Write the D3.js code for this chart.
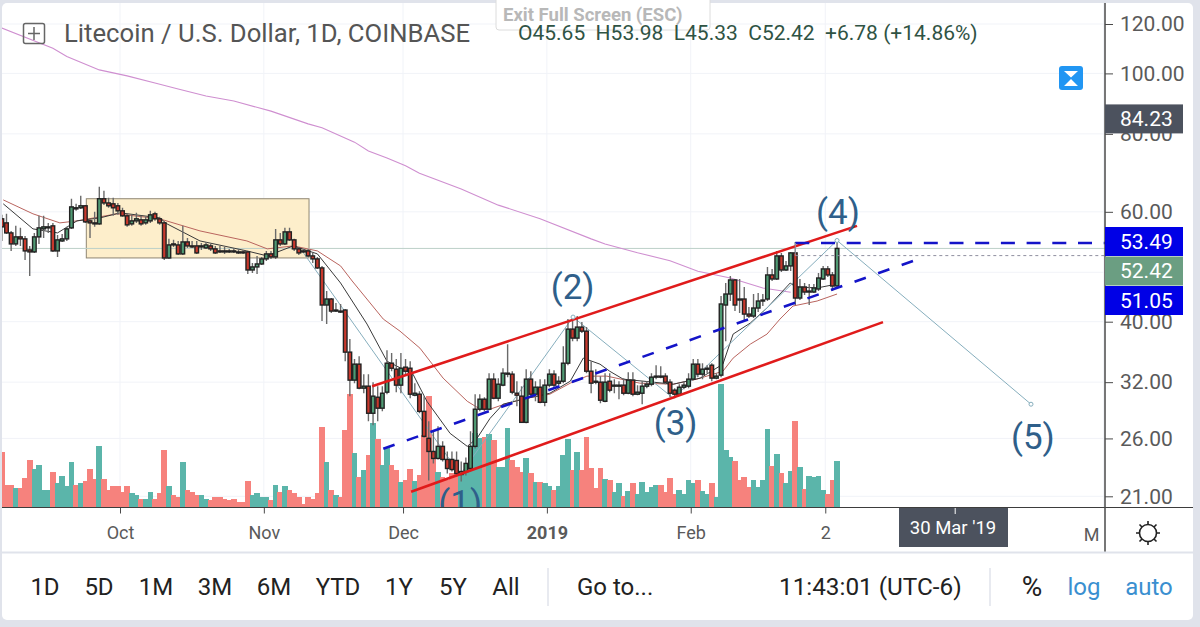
<!DOCTYPE html>
<html>
<head>
<meta charset="utf-8">
<style>
    html, body { margin: 0; padding: 0; background: #e0e3eb; }
    svg { display: block; }
    text { font-family: Roboto, sans-serif; }
</style>
<script src="https://cdn.jsdelivr.net/npm/d3@7"></script>
</head>
<body>
<svg id="chart" width="1200" height="627"></svg>
<script>
// LTC/USD daily candles, 5 Sep 2018 to 4 Mar 2019
const firstDay = Date.UTC(2018, 8, 5);

const opens = [
    58.47, 57.6, 55.51, 53.3, 54.7, 54.3, 52.13, 51.75, 54.7, 56.34,
    56.55, 56.97, 51.94, 53.89, 54.3, 56.55, 60.9, 60.9, 61.35, 58.03,
    57.6, 57.39, 62.97, 62, 61.8, 61.35, 60.22, 59.12, 57.39, 58.03,
    58.25, 57.6, 58.03, 59.56, 58.47, 57.6, 50.61, 53.3, 53.1, 51.37,
    53.69, 52.91, 52.91, 52.71, 52.52, 52.91, 52.33, 51.94, 51.94, 51.94,
    51.94, 51.75, 51.75, 51.75, 48.41, 48.96, 49.5, 50.43, 51.37, 50.8,
    54.1, 53.3, 55.72, 54.1, 52.33, 51.94, 51.94, 50.99, 50.43, 48.78,
    42.54, 43.49, 41.6, 41.6, 41.76, 35.75, 32.24, 34.2, 31.3, 31.53,
    28.53, 30.27, 29.07, 30.84, 34.32, 33.57, 31.65, 33.82, 33.69, 30.5,
    30.61, 28.73, 26.01, 24.78, 24.15, 25.25, 24.06, 24.06, 23.97, 22.76,
    23.01, 23.27, 25.25, 28.96, 30.05, 28.96, 32.36, 30.16, 31.65, 32.96,
    32.96, 30.72, 30.39, 27.59, 32.36, 30.61, 31.41, 29.71, 31.65, 32.96,
    31.88, 32.11, 34.32, 38.92, 37.65, 39.21, 38.63, 33.32, 32.11, 32,
    29.82, 32.11, 31.53, 31.53, 31.65, 30.72, 32.24, 30.61, 30.72, 31.53,
    31.76, 32.6, 32.72, 32.72, 32, 31.07, 30.61, 31.41, 31.53, 32.36,
    34.2, 32.96, 33.57, 34.07, 32.48, 32.84, 42.54, 44.3, 46.66, 43.49,
    43.49, 41.14, 40.84, 42.07, 43.17, 43.49, 47.53, 46.83, 50.99, 48.41,
    49.14, 51.56, 43.65, 45.46, 44.63, 44.63, 45.13, 46.83, 48.6, 47.53,
    45.65
];
const closes = [
    56.76, 55.51, 53.3, 54.7, 54.3, 51.94, 51.75, 54.7, 56.55, 56.76,
    56.76, 51.94, 54.1, 54.3, 56.34, 61.1, 60.65, 61.35, 57.82, 57.6,
    57.39, 62.97, 62, 61.35, 60.9, 60.22, 59.12, 57.18, 58.03, 58.47,
    57.39, 58.25, 59.34, 58.47, 57.6, 50.61, 53.1, 53.1, 51.37, 53.69,
    52.91, 52.71, 51.56, 52.91, 53.1, 52.33, 51.56, 51.75, 51.75, 51.75,
    51.75, 51.56, 51.56, 48.41, 48.96, 49.5, 50.43, 51.37, 50.8, 54.1,
    53.3, 55.72, 54.1, 52.33, 51.56, 51.75, 50.99, 50.43, 48.78, 42.54,
    43.49, 41.6, 41.76, 41.45, 35.75, 32.24, 34.2, 31.3, 31.53, 28.53,
    30.39, 29.07, 30.72, 34.32, 33.69, 31.65, 33.69, 33.32, 30.61, 30.72,
    28.73, 26.2, 24.78, 24.15, 25.25, 24.06, 23.27, 23.18, 22.84, 23.01,
    23.71, 25.25, 28.96, 30.05, 28.96, 32.36, 30.16, 31.76, 33.08, 33.08,
    30.84, 30.5, 27.59, 32.36, 30.61, 31.41, 29.71, 31.65, 32.96, 31.65,
    32.11, 34.32, 38.92, 37.65, 39.21, 38.63, 33.32, 31.88, 32, 29.94,
    32, 31.07, 31.65, 31.65, 30.72, 32.24, 30.61, 30.84, 31.53, 31.76,
    32.6, 32.72, 32.6, 32, 30.72, 30.61, 31.41, 31.65, 32.36, 34.2,
    32.96, 33.57, 33.69, 32.48, 32.72, 42.7, 44.3, 46.66, 42.54, 43.33,
    41.14, 40.84, 42.07, 43.17, 43.33, 47.53, 46.83, 50.99, 48.41, 49.14,
    51.56, 43.65, 45.46, 44.63, 44.79, 45.3, 47, 48.6, 47.53, 45.63,
    52.42
];
const highs = [
    59.34, 59.56, 55.92, 56.97, 56.55, 54.9, 52.91, 55.51, 59.12, 59.12,
    57.6, 57.6, 55.1, 55.31, 56.76, 62.97, 61.8, 63.66, 61.55, 58.25,
    60, 65.8, 64.83, 63.2, 63.2, 62, 60.9, 59.56, 59.34, 59.78,
    59.12, 58.9, 60.22, 60, 58.9, 57.82, 54.3, 54.1, 53.89, 56.97,
    54.5, 53.89, 53.89, 53.5, 53.69, 53.3, 52.91, 52.91, 52.71, 52.33,
    52.52, 52.33, 52.13, 51.94, 49.68, 50.99, 50.8, 51.94, 51.94, 56.34,
    55.51, 56.55, 56.55, 54.3, 52.71, 52.33, 52.33, 51.56, 50.8, 49.14,
    44.79, 43.65, 42.85, 42.7, 41.91, 37.51, 34.84, 35.22, 32.96, 32.96,
    32, 31.53, 31.53, 36.01, 35.62, 34.84, 35.62, 34.84, 34.57, 31.88,
    30.94, 30.39, 27.69, 26.69, 27.19, 25.72, 24.78, 24.78, 24.78, 23.88,
    24.24, 26.69, 30.61, 30.61, 30.27, 33.08, 33.08, 32.48, 33.69, 36.82,
    33.32, 32.11, 31.53, 33.57, 33.32, 32.11, 32.36, 32.36, 33.57, 33.45,
    32.72, 36.55, 40.39, 40.09, 40.84, 39.94, 39.21, 34.57, 33.57, 32.72,
    33.08, 33.08, 32.36, 32.11, 32.48, 33.2, 33.2, 31.65, 32.11, 32.11,
    33.08, 34.07, 33.94, 33.08, 32.36, 31.3, 31.76, 32.11, 33.08, 34.84,
    34.84, 34.32, 34.07, 34.32, 33.08, 43.97, 46.14, 47.35, 46.83, 46.83,
    45.46, 42.22, 44.3, 44.46, 44.3, 48.96, 48.6, 51.94, 51.56, 50.05,
    51.75, 53.69, 46.83, 46.14, 45.97, 45.97, 47.88, 49.14, 49.14, 48.06,
    53.98
];
const lows = [
    53.89, 55.31, 51.94, 52.91, 52.91, 50.24, 47.35, 51.56, 53.3, 54.5,
    55.51, 51.75, 50.8, 53.69, 53.89, 56.34, 60.22, 60.65, 57.6, 54.5,
    56.76, 57.18, 61.55, 60.9, 59.12, 59.34, 58.9, 56.76, 56.97, 57.6,
    56.97, 57.18, 57.6, 58.03, 57.18, 50.24, 50.43, 52.71, 51.18, 51.18,
    52.52, 52.52, 51.37, 52.13, 52.33, 51.94, 51.37, 51.56, 51.37, 51.56,
    51.56, 51.37, 51.37, 47.7, 47.88, 47.7, 49.32, 50.05, 50.43, 50.43,
    52.91, 53.1, 53.89, 51.94, 51.18, 51.56, 50.8, 49.68, 48.6, 40.09,
    39.65, 41.3, 41.45, 41.3, 34.57, 30.39, 31.88, 31.18, 30.72, 27.69,
    27.29, 27.69, 28.73, 30.61, 33.32, 30.84, 30.72, 32.96, 30.16, 30.39,
    28.53, 26.1, 22.26, 23.71, 24.06, 23.88, 22.84, 23.01, 22.59, 22.18,
    22.67, 23.01, 25.06, 28.73, 28.73, 28.85, 30.05, 29.82, 31.53, 32.6,
    30.61, 29.28, 27.59, 27.49, 30.39, 29.82, 29.6, 29.28, 31.41, 31.41,
    31.65, 31.88, 34.07, 37.23, 37.23, 38.35, 33.08, 30.72, 31.76, 29.6,
    29.71, 30.84, 30.72, 30.05, 30.5, 30.61, 30.39, 30.5, 29.5, 31.3,
    31.53, 32.36, 32.48, 31.76, 30.27, 30.16, 30.5, 31.18, 31.3, 32.24,
    32.6, 32.36, 33.08, 32.11, 32.36, 32.6, 37.23, 43.17, 41.6, 41.3,
    40.09, 40.54, 40.54, 41.45, 42.38, 43.17, 46.48, 46.66, 48.06, 48.23,
    48.23, 42.54, 43.33, 44.14, 42.54, 44.46, 44.79, 46.66, 47.18, 44.79,
    45.33
];
const volumes = [
    56, 23, 23, 20, 20, 30, 48, 39, 43, 18,
    18, 36, 25, 32, 22, 46, 23, 25, 27, 39,
    29, 62, 29, 18, 22, 22, 16, 22, 15, 13,
    9, 9, 16, 9, 15, 58, 22, 13, 11, 46,
    18, 16, 13, 13, 9, 8, 11, 11, 9, 8,
    9, 6, 6, 27, 13, 15, 11, 11, 8, 23,
    16, 22, 18, 15, 11, 4, 11, 9, 15, 81,
    46, 18, 13, 11, 78, 114, 55, 31, 38, 53,
    85, 69, 43, 61, 43, 38, 26, 28, 39, 27,
    33, 73, 112, 51, 36, 31, 28, 35, 35, 36,
    36, 43, 75, 70, 71, 74, 68, 41, 41, 80,
    48, 41, 36, 50, 35, 26, 26, 25, 22, 18,
    22, 53, 69, 38, 56, 38, 71, 40, 20, 40,
    29, 28, 16, 25, 12, 17, 25, 14, 26, 16,
    21, 23, 23, 16, 30, 14, 18, 14, 28, 25,
    28, 17, 14, 25, 11, 124, 58, 51, 47, 28,
    31, 21, 28, 21, 28, 79, 42, 54, 35, 25,
    37, 87, 41, 19, 32, 31, 32, 18, 14, 28,
    47
];

// overlay lines, as [candle index, price]
const maLong = [[0, 118.2], [11, 109.7], [14, 106.4], [21, 101.3], [27, 99.1], [33, 96.5], [38, 94.4], [44, 92], [50, 90.3], [58, 87], [66, 83], [69, 81.8], [76, 77.6], [79, 75.1], [83, 73.2], [87, 71.1], [90, 69.2], [99, 65.3], [107, 61.5], [116, 58.5], [127, 54.3], [130, 53.3], [137, 51.6], [144, 50.1], [150, 48.2], [157, 47], [164, 45.3], [170, 44.6]];
const maRed = [[0.3, 62.7], [6.7, 59.56], [12.5, 57.6], [16.2, 58.03], [24.8, 59.56], [34, 58.47], [42.7, 55.92], [52.8, 53.89], [57.2, 52.33], [62.8, 52.91], [68, 51.94], [73, 49.14], [75.5, 46.48], [82.2, 40.39], [85.8, 38.63], [90.1, 36.28], [95.1, 32.48], [100.3, 29.82], [102.4, 29.17], [105.2, 28.96], [108.9, 29.6], [113.2, 30.16], [118.1, 30.61], [122.5, 31.88], [126.1, 32.72], [130.4, 32.72], [137.5, 31.88], [144.7, 31.76], [149.8, 32.36], [155.4, 33.32], [157.6, 34.97], [161.3, 36.82], [164.9, 38.21], [167.7, 40.39], [170.5, 42.38], [175.7, 43.17], [180, 44.3]];
const maBlack = [[0.3, 61.8], [6.7, 56.34], [12, 55.51], [16.2, 58.03], [21.2, 58.68], [25.5, 59.78], [34, 58.68], [35.6, 57.39], [42.7, 53.89], [52.8, 51.94], [57.2, 50.99], [62.8, 52.91], [68, 51.37], [73, 46.14], [78.7, 39.65], [83, 34.57], [88.6, 32.96], [91.6, 29.82], [96.6, 26.49], [100.3, 25.25], [102.4, 26.01], [105.2, 27.99], [108, 29.5], [112.3, 30.05], [118.1, 30.72], [122.5, 32.11], [125.3, 34.97], [128.9, 34.2], [131, 33.32], [133.9, 32.36], [144.7, 31.76], [150.5, 32.48], [155.4, 34.2], [157.6, 38.21], [161.3, 39.8], [164.9, 42.07], [169.9, 46.14], [171, 45.5], [175.7, 45.3], [180, 45.97]];

const channelUpper = [[79.8, 31.53], [184.3, 56.97]];
const channelLower = [[88.2, 21.35], [189.9, 39.94]];
const channelMiddle = [[82.2, 25.03], [197, 50.24]];
const waveLine = [[64.7, 51.94], [98.8, 22.76], [123.1, 40.69], [144.7, 30.16], [180, 53.98], [221.8, 29.5]];
const waveLabels = [['(1)', 98.8, 20.3], ['(2)', 123, 44.96], ['(3)', 145.2, 27.2], ['(4)', 180.2, 59.34], ['(5)', 222.2, 25.9]];
const boxRange = { from: 18.2, to: 66.2, top: 62.97, bottom: 50.61 };

const priceTicks = [120, 100, 80, 60, 48, 40, 32, 26, 21];
const timeTicks = [[2018, 9, 1], [2018, 10, 1], [2018, 11, 1], [2019, 0, 1], [2019, 1, 1], [2019, 2, 2], [2019, 4, 1]];
const timeLabels = ['Oct', 'Nov', 'Dec', '2019', 'Feb', '2', 'May'];
const lastClose = 52.42, rangeTop = 53.49, rangeBottom = 51.05, markPrice = 84.23;
const rangeButtons = ['1D', '5D', '1M', '3M', '6M', 'YTD', '1Y', '5Y', 'All'];
const rangeButtonX = [45, 99, 156, 215, 274, 338, 399, 453, 506];

const svg = d3.select('#chart');

const x = d3.scaleUtc()
    .domain([Date.UTC(2018, 9, 1), Date.UTC(2019, 4, 1)])
    .range([120, 120 + 212 * 4.64]);
const y = d3.scaleLog().domain([21, 120]).range([496.3, 24]);
const yVolume = d3.scaleLinear().domain([0, 125]).range([508, 383]);

// candles sit a little right of the day's tick, same as the source chart
const xDay = (i) => x(firstDay + i * 864e5) + 2.5;
const point = ([i, price]) => [xDay(i), y(price)];
const line = d3.line().x((d) => point(d)[0]).y((d) => point(d)[1]);

const candles = d3.range(opens.length).map((i) => ({
    i, open: opens[i], close: closes[i], high: highs[i], low: lows[i], volume: volumes[i], up: closes[i] >= opens[i],
}));

// page and panel
svg.append('rect').attr('width', 1200).attr('height', 627).attr('fill', '#e0e3eb');
svg.append('rect').attr('x', 2).attr('y', 3).attr('width', 1191).attr('height', 617).attr('rx', 5).attr('fill', '#fff');

svg.append('clipPath').attr('id', 'plot').append('rect').attr('x', 2).attr('y', 3).attr('width', 1103).attr('height', 504.5);
const plot = svg.append('g').attr('clip-path', 'url(#plot)');

// grid
const tickDates = timeTicks.map(([yr, m, d]) => Date.UTC(yr, m, d));
plot.append('g').selectAll('line').data(priceTicks).enter().append('line')
    .attr('x1', 2).attr('x2', 1105)
    .attr('y1', (d) => y(d)).attr('y2', (d) => y(d))
    .attr('stroke', '#f1f3f8');
plot.append('g').selectAll('line').data(tickDates).enter().append('line')
    .attr('x1', (d) => x(d)).attr('x2', (d) => x(d))
    .attr('y1', 3).attr('y2', 508)
    .attr('stroke', '#f1f3f8');

// volume, rounded out to whole pixels so neighbours leave no seam
const barWidth = 4.64;
plot.append('g').attr('shape-rendering', 'crispEdges').selectAll('rect').data(candles).enter().append('rect')
    .attr('x', (d) => Math.floor(xDay(d.i) - barWidth / 2))
    .attr('width', (d) => Math.ceil(xDay(d.i) + barWidth / 2) - Math.floor(xDay(d.i) - barWidth / 2))
    .attr('y', (d) => yVolume(d.volume))
    .attr('height', (d) => yVolume(0) - yVolume(d.volume))
    .attr('fill', (d) => d.up ? '#5bb5aa' : '#f6827d');

// highlighted box
plot.append('rect')
    .attr('x', xDay(boxRange.from))
    .attr('width', xDay(boxRange.to) - xDay(boxRange.from))
    .attr('y', y(boxRange.top))
    .attr('height', y(boxRange.bottom) - y(boxRange.top))
    .attr('fill', '#fdeecb')
    .attr('stroke', '#8f8672');

// last price line
plot.append('line')
    .attr('x1', 2).attr('x2', 1105)
    .attr('y1', y(lastClose)).attr('y2', y(lastClose))
    .attr('stroke', '#bdd0c8');

const drawLine = (data, color, width, dash) => plot.append('path')
    .datum(data)
    .attr('d', line)
    .attr('fill', 'none')
    .attr('stroke', color)
    .attr('stroke-width', width)
    .attr('stroke-dasharray', dash || null);

drawLine(maLong, '#cf8fd0', 1.1);
drawLine(maRed, '#b9645e', 1);
drawLine(maBlack, '#3a3a3a', 1);
drawLine(waveLine, '#86aebd', 1);

// candles
const bodies = plot.append('g').selectAll('g').data(candles).enter().append('g');
bodies.append('line')
    .attr('x1', (d) => xDay(d.i)).attr('x2', (d) => xDay(d.i))
    .attr('y1', (d) => y(d.high)).attr('y2', (d) => y(d.low))
    .attr('stroke', '#6a6a6a')
    .attr('stroke-width', 1.4);
bodies.append('rect')
    .attr('x', (d) => xDay(d.i) - 1.8)
    .attr('width', 3.6)
    .attr('y', (d) => y(Math.max(d.open, d.close)))
    .attr('height', (d) => Math.max(Math.abs(y(d.open) - y(d.close)), 1))
    .attr('fill', (d) => d.up ? '#4f9a73' : '#c8382c')
    .attr('stroke', '#222')
    .attr('stroke-width', 1.4);

// drawings on top
drawLine(channelUpper, '#e01b1b', 2.6);
drawLine(channelLower, '#e01b1b', 2.6);
drawLine(channelMiddle, '#1414c8', 2.6, '12 13');
plot.append('line')
    .attr('x1', xDay(171)).attr('x2', 1105)
    .attr('y1', y(rangeTop)).attr('y2', y(rangeTop))
    .attr('stroke', '#1414c8').attr('stroke-width', 2.6).attr('stroke-dasharray', '14 11.7');
plot.append('line')
    .attr('x1', xDay(171)).attr('x2', 1105)
    .attr('y1', y(rangeBottom)).attr('y2', y(rangeBottom))
    .attr('stroke', '#8f8f9f').attr('stroke-width', 1).attr('stroke-dasharray', '3 3');
plot.append('line')
    .attr('x1', xDay(171)).attr('x2', xDay(171))
    .attr('y1', y(rangeTop)).attr('y2', y(rangeBottom))
    .attr('stroke', '#9a9aa8');

plot.append('g').selectAll('circle').data([waveLine[2], waveLine[4], waveLine[5]]).enter().append('circle')
    .attr('cx', (d) => point(d)[0]).attr('cy', (d) => point(d)[1])
    .attr('r', 2)
    .attr('fill', '#fff')
    .attr('stroke', '#86aebd');

plot.append('g').selectAll('text').data(waveLabels).enter().append('text')
    .attr('x', (d) => xDay(d[1]))
    .attr('y', (d) => y(d[2]))
    .attr('text-anchor', 'middle')
    .attr('dominant-baseline', 'middle')
    .attr('font-size', 35)
    .attr('fill', '#2f5f8a')
    .text((d) => d[0]);

// axes
const xAxis = d3.axisBottom(x).tickValues(tickDates).tickSize(6).tickPadding(13)
    .tickFormat((d) => timeLabels[tickDates.indexOf(+d)]);
const xAxisGroup = svg.append('g').attr('transform', 'translate(0,507.5)').call(xAxis);
xAxisGroup.select('.domain').remove();
xAxisGroup.selectAll('line').attr('stroke', '#4a4a4a');
xAxisGroup.selectAll('text').attr('font-size', 18).attr('fill', '#5a5a5a')
    .attr('font-weight', (d, i) => timeLabels[i] === '2019' ? 700 : 400);
xAxisGroup.selectAll('.tick').filter((d, i) => timeLabels[i] === 'May').remove();
svg.append('clipPath').attr('id', 'axisclip').append('rect').attr('x', 1000).attr('y', 508).attr('width', 100).attr('height', 44);
svg.append('g').attr('clip-path', 'url(#axisclip)')
    .append('text').attr('x', x(tickDates[6]) - 3).attr('y', 541).attr('text-anchor', 'middle')
    .attr('font-size', 18).attr('fill', '#5a5a5a').text('May');

const yAxis = d3.axisRight(y).tickValues(priceTicks).tickSize(8).tickPadding(7).tickFormat(d3.format('.2f'));
const yAxisGroup = svg.append('g').attr('transform', 'translate(1105,0)').call(yAxis);
yAxisGroup.select('.domain').remove();
yAxisGroup.selectAll('line').attr('stroke', '#4a4a4a');
yAxisGroup.selectAll('text').attr('font-size', 21).attr('fill', '#5a5a5a');

svg.append('line').attr('x1', 2).attr('x2', 1193).attr('y1', 507.5).attr('y2', 507.5).attr('stroke', '#3d3d3d').attr('stroke-width', 1.2);
svg.append('line').attr('x1', 1105).attr('x2', 1105).attr('y1', 3).attr('y2', 552).attr('stroke', '#4a4a4a').attr('stroke-width', 1.5);

// price tags, moved apart the same way the source chart does
const priceTag = (value, tagY, color) => {
    const tag = svg.append('g');
    tag.append('rect').attr('x', 1105).attr('y', tagY - 14.5).attr('width', 78).attr('height', 29).attr('fill', color);
    tag.append('text').attr('x', 1120).attr('y', tagY).attr('dy', '0.35em')
        .attr('font-size', 21).attr('fill', '#fff').text(d3.format('.2f')(value));
};
priceTag(markPrice, y(markPrice) - 1, '#4c525e');
priceTag(rangeTop, 241.5, '#0000e6');
priceTag(lastClose, 271, '#6b9e82');
priceTag(rangeBottom, 300.5, '#0000e6');

// header
svg.append('rect').attr('x', 23.5).attr('y', 23.5).attr('width', 21).attr('height', 20).attr('rx', 2)
    .attr('fill', 'none').attr('stroke', '#666').attr('stroke-width', 1.5);
svg.append('path').attr('d', 'M28,33.5H40M34,27V40').attr('stroke', '#666').attr('stroke-width', 1.5);
svg.append('text').attr('x', 64).attr('y', 42).attr('font-size', 25.7).attr('fill', '#555')
    .text('Litecoin / U.S. Dollar, 1D, COINBASE');

svg.append('rect').attr('x', 496).attr('y', -4).attr('width', 214).attr('height', 34).attr('rx', 3)
    .attr('fill', '#fff').attr('stroke', '#dcdcdc');
svg.append('text').attr('x', 503).attr('y', 21).attr('font-size', 18.5).attr('font-weight', 700).attr('fill', '#b8b8b8')
    .text('Exit Full Screen (ESC)');
svg.append('text').attr('x', 518).attr('y', 40).attr('font-size', 21).attr('fill', '#2f5344')
    .attr('xml:space', 'preserve')
    .text(`O${opens[180]}  H${highs[180]}  L${lows[180]}  C${closes[180]}  +6.78 (+14.86%)`);

// hourglass button
svg.append('rect').attr('x', 1059).attr('y', 66).attr('width', 24).attr('height', 24).attr('rx', 3).attr('fill', '#2196f3');
svg.append('path').attr('d', 'M1064,71H1078L1071,77.5ZM1064,86H1078L1071,79Z').attr('fill', '#fff');

// time axis cursor tag
svg.append('rect').attr('x', 899).attr('y', 508).attr('width', 109).attr('height', 39).attr('fill', '#4c525e');
svg.append('line').attr('x1', x(Date.UTC(2019, 2, 30))).attr('x2', x(Date.UTC(2019, 2, 30))).attr('y1', 508).attr('y2', 514).attr('stroke', '#fff');
svg.append('text').attr('x', 953).attr('y', 528).attr('dy', '0.35em').attr('text-anchor', 'middle')
    .attr('font-size', 18.5).attr('fill', '#fff').text("30 Mar '19");

// settings icon
svg.append('circle').attr('cx', 1148).attr('cy', 533).attr('r', 8.5).attr('fill', 'none').attr('stroke', '#222').attr('stroke-width', 1.6);
svg.append('path')
    .attr('d', 'M1148,521V525M1148,541V545M1136,533H1140M1156,533H1160M1139.5,524.5L1142,527M1154,539L1156.5,541.5M1156.5,524.5L1154,527M1142,539L1139.5,541.5')
    .attr('stroke', '#222').attr('stroke-width', 1.6);

// bottom toolbar
svg.append('line').attr('x1', 2).attr('x2', 1193).attr('y1', 552.5).attr('y2', 552.5).attr('stroke', '#e0e3eb').attr('stroke-width', 2);
svg.selectAll('.range-button').data(rangeButtons).enter().append('text')
    .attr('class', 'range-button')
    .attr('x', (d, i) => rangeButtonX[i])
    .attr('y', 595)
    .attr('text-anchor', 'middle')
    .attr('font-size', 24)
    .attr('fill', '#222')
    .text((d) => d);
[548, 990].forEach((sepX) => svg.append('line')
    .attr('x1', sepX).attr('x2', sepX).attr('y1', 568).attr('y2', 606).attr('stroke', '#e0e3eb').attr('stroke-width', 1.5));
svg.append('text').attr('x', 577).attr('y', 595).attr('font-size', 24).attr('fill', '#222').text('Go to...');
svg.append('text').attr('x', 779).attr('y', 595).attr('font-size', 24.3).attr('fill', '#222').text('11:43:01 (UTC-6)');
svg.append('text').attr('x', 1032).attr('y', 596).attr('text-anchor', 'middle').attr('font-size', 28).attr('fill', '#222').text('%');
svg.append('text').attr('x', 1084).attr('y', 595).attr('text-anchor', 'middle').attr('font-size', 24).attr('fill', '#3a8fd0').text('log');
svg.append('text').attr('x', 1149).attr('y', 595).attr('text-anchor', 'middle').attr('font-size', 24).attr('fill', '#3a8fd0').text('auto');
</script>
</body>
</html>
